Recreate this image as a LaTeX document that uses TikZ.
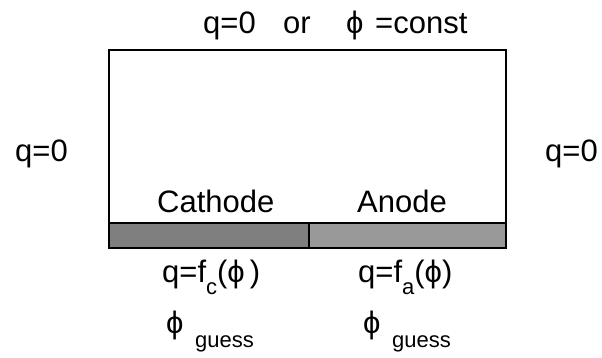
\documentclass[tikz,border=0pt]{standalone}
\usepackage{fontspec}
\setmainfont{Liberation Sans}
\newcommand\phisym{\symbol{"03D5}}
\newcommand\lowsub[1]{\raisebox{-12pt}{\fontsize{22}{22}\selectfont #1}}
\definecolor{cathodegray}{HTML}{7F7F7F}
\definecolor{anodegray}{HTML}{999999}
\tikzset{
  lbl/.style={inner sep=0pt, anchor=base west, font=\fontsize{31}{36}\selectfont},
  sublbl/.style={inner sep=0pt, anchor=base west, font=\fontsize{22}{26}\selectfont},
  frame/.style={draw=black, line width=2pt},
}
\begin{document}
\begin{tikzpicture}[x=1pt, y=-1pt]
  \useasboundingbox (0,0) rectangle (602,357);
  % domain and electrodes
  \draw[frame, fill=white] (109,50) rectangle (506,223);
  \draw[frame, fill=cathodegray] (109,223) rectangle (309,248);
  \draw[frame, fill=anodegray] (309,223) rectangle (506,248);
  % boundary condition on top
  \node[lbl] (topq) at (203,33) {q=0};
  \node[lbl] (topor) at (283,33) {or};
  \node[lbl] (topphi) at (346,33) {\phisym};
  \node[lbl] (topconst) at (375,33) {=const};
  % side walls
  \node[lbl] (leftq) at (15,161) {q=0};
  \node[lbl] (rightq) at (545,161) {q=0};
  % electrode names
  \node[lbl] (cathode) at (157,212) {Cathode};
  \node[lbl] (anode) at (357,212) {Anode};
  % electrode conditions
  \node[lbl] (fc) at (162,282) {q=f\lowsub{c}(\phisym\,)};
  \node[lbl] (fa) at (358,282) {q=f\lowsub{a}(\phisym)};
  \node[lbl] (phic) at (166,333) {\phisym};
  \node[sublbl] (guessc) at (195,347) {guess};
  \node[lbl] (phia) at (363,333) {\phisym};
  \node[sublbl] (guessa) at (392,347) {guess};
\end{tikzpicture}
\end{document}
